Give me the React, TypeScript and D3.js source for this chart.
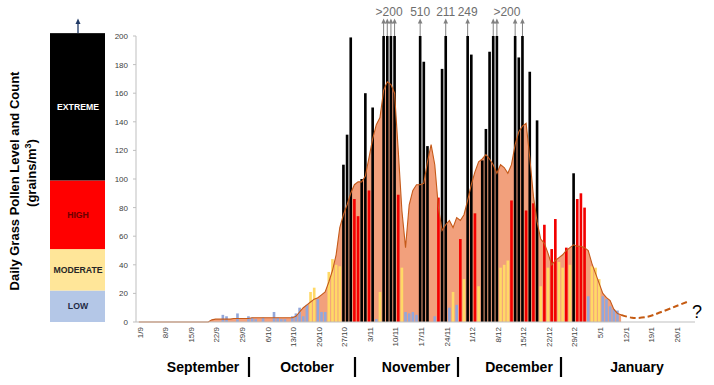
import React from 'react';
import * as d3 from 'd3';

// Daily grass pollen counts (grains/m3), day 0 = 1 September; null = no reading
const dailyCounts: (number | null)[] = [
  null, null, null, null, null, null, null, null, null, null,
  null, null, null, null, null, null, null, null, null, null,
  null, null, null, 5, 4, null, null, 6, null, null,
  4, 3, 2, null, 3, null, null, 7, 3, 2,
  2, null, 4, 6, 10, 4, 12, 21, 24, 16,
  7, 7, 35, 44, 40, 39, 110, 131, 199, 86,
  74, 100, 160, 92, 150, 2, 21, 201, 201, 201,
  201, 89, 38, 7, 6, 7, 5, 510, 182, 123,
  null, 4, 87, 177, 211, 10, 21, 12, 58, 30,
  249, 187, 76, 25, 113, 135, 189, 201, 201, 38,
  40, 43, 85, 201, 185, 201, 78, 175, 83, 141,
  25, 68, 38, 51, 72, 42, 38, 52, 40, 104,
  86, 90, 80, 18, 39, 38, 30, 18, 16, 11,
  9, 8,
];

// Smoothed (running) level shown as the orange area
const smoothedLevel: number[] = [
  0, 0, 0, 0, 0, 0, 0, 0, 0, 0,
  0, 0, 0, 0, 0, 0, 0, 0, 0, 0,
  1.5, 2, 2, 2, 2, 2, 2.5, 2.5, 2.5, 2.5,
  2.5, 3, 3, 3, 3, 3, 3, 3, 3, 3,
  3, 3, 3, 4, 7, 10, 12, 14, 16, 17,
  19, 21, 28, 36, 47, 66, 75, 82, 90, 96,
  98, 98, 102, 115, 128, 138, 143, 162, 168, 166,
  160, 120, 78, 52, 82, 92, 96, 96, 97, 112,
  124, 110, 80, 64, 68, 71, 66, 73, 71, 75,
  85, 96, 105, 112, 114, 117, 114, 110, 104, 110,
  108, 104, 110, 124, 133, 137, 139, 115, 88, 70,
  58, 55, 48, 40, 43, 45, 47, 50, 52, 54,
  53, 53, 52, 50, 41, 34, 27, 20, 17, 15,
  9, 6, 5,
];

// Forecast (dashed) points: [day, level]
const forecastDays: number[] = [132, 135, 139, 143, 147, 150];
const forecastLevels: number[] = [5, 3, 3.5, 7, 11, 14];

const tickLabels: string[] = [
  '1/9', '8/9', '15/9', '22/9', '29/9', '6/10', '13/10', '20/10', '27/10',
  '3/11', '10/11', '17/11', '24/11', '1/12', '8/12', '15/12', '22/12', '29/12',
  '5/1', '12/1', '19/1', '26/1',
];
const yTickValues: number[] = [0, 20, 40, 60, 80, 100, 120, 140, 160, 180, 200];

const monthNames: string[] = ['September', 'October', 'November', 'December', 'January'];

const levelNames: string[] = ['LOW', 'MODERATE', 'HIGH', 'EXTREME'];
const levelBounds: number[] = [0, 22, 51, 99, 202];

const annotationLabels: string[] = ['>200', '510', '211', '249', '>200'];
const annotationDays: number[][] = [[67, 68, 69, 70], [77], [84], [90], [97, 98, 103, 105]];

const TOTAL_DAYS = 153;

export default function App() {
  const W = 714;
  const H = 385;
  const x = d3.scaleBand<number>().domain(d3.range(TOTAL_DAYS)).range([137, 696]).padding(0);
  const bw = x.bandwidth();
  const cx = (d: number) => (x(d) as number) + bw / 2;
  const y = d3.scaleLinear().domain([0, 200]).range([322, 36]);
  const barW = bw * 0.72;

  const colorFor = (v: number) =>
    v >= 100 ? '#000000' : v >= 50 ? '#F20000' : v >= 20 ? '#FFD966' : '#93A7DA';

  const areaGen = d3
    .area<number>()
    .x((_, i) => cx(i))
    .y0(y(0))
    .y1((d) => y(d));
  const lineGen = d3
    .line<number>()
    .x((_, i) => cx(i))
    .y((d) => y(d));
  const fcGen = d3
    .line<number>()
    .x((_, i) => cx(forecastDays[i]))
    .y((d) => y(d))
    .curve(d3.curveCatmullRom);

  const levelFills = ['#B4C7E7', '#FFE699', '#FF0000', '#000000'];
  const levelText = ['#1F2A44', '#262626', '#6B0000', '#FFFFFF'];

  const monthX = [203, 307, 416, 519, 637];
  const sepX = [249, 355, 458, 561];

  const font = 'Arial, "Liberation Sans", Helvetica, sans-serif';

  return (
    <svg
      width={W}
      height={H}
      viewBox={`0 0 ${W} ${H}`}
      style={{ position: 'absolute', left: 0, top: 0, background: '#fff' }}
      fontFamily={font}
    >
      <rect x={0} y={0} width={W} height={H} fill="#fff" />

      {/* Y title */}
      <text
        transform={`translate(19,181) rotate(-90)`}
        textAnchor="middle"
        fontSize={13}
        fontWeight="bold"
        fill="#000"
      >
        Daily Grass Pollen Level and Count
      </text>
      <text
        transform={`translate(36,173) rotate(-90)`}
        textAnchor="middle"
        fontSize={13}
        fontWeight="bold"
        fill="#000"
      >
        (grains/m<tspan fontSize={9} dy={-5}>3</tspan>
        <tspan dy={5}>)</tspan>
      </text>

      {/* Level legend column */}
      {levelNames.map((name, i) => {
        const top = y(levelBounds[i + 1]);
        const bot = y(levelBounds[i]);
        return (
          <g key={name}>
            <rect x={50} y={top} width={55} height={bot - top} fill={levelFills[i]} />
            <text
              x={78}
              y={(top + bot) / 2 + 3}
              textAnchor="middle"
              fontSize={8.7}
              fontWeight="bold"
              fill={levelText[i]}
            >
              {name}
            </text>
          </g>
        );
      })}
      <line x1={78} x2={78} y1={y(levelBounds[4])} y2={24} stroke="#1F3864" strokeWidth={1.3} />
      <polygon points="75.5,24 80.5,24 78,18.5" fill="#1F3864" />

      {/* Y axis */}
      <line x1={136} x2={136} y1={y(200)} y2={y(0)} stroke="#BFBFBF" strokeWidth={1} />
      {yTickValues.map((t) => (
        <g key={t}>
          <line x1={133} x2={136} y1={y(t)} y2={y(t)} stroke="#BFBFBF" />
          <text x={128} y={y(t) + 3} textAnchor="end" fontSize={8} fill="#404040">
            {t}
          </text>
        </g>
      ))}

      {/* Smoothed area */}
      <path d={areaGen(smoothedLevel) || ''} fill="#F2A07C" />

      {/* Daily bars */}
      {dailyCounts.map((v, i) =>
        v == null ? null : (
          <rect
            key={i}
            x={cx(i) - barW / 2}
            y={y(Math.min(v, 200))}
            width={barW}
            height={y(0) - y(Math.min(v, 200))}
            fill={colorFor(v)}
          />
        )
      )}

      <path d={lineGen(smoothedLevel) || ''} fill="none" stroke="#C55A1A" strokeWidth={1.1} />

      {/* Forecast */}
      <path
        d={fcGen(forecastLevels) || ''}
        fill="none"
        stroke="#C55A11"
        strokeWidth={2}
        strokeDasharray="6,3"
      />
      <text x={697} y={318} textAnchor="middle" fontSize={18} fill="#000">
        ?
      </text>

      {/* X axis */}
      <line x1={136} x2={695} y1={y(0)} y2={y(0)} stroke="#BFBFBF" strokeWidth={1} />
      {tickLabels.map((lab, i) => (
        <text
          key={lab}
          transform={`translate(${cx(i * 7) + 1},327) rotate(-90)`}
          textAnchor="end"
          dy="0.35em"
          fontSize={8}
          fill="#404040"
        >
          {lab}
        </text>
      ))}

      {/* Month labels */}
      {monthNames.map((m, i) => (
        <text key={m} x={monthX[i]} y={372} textAnchor="middle" fontSize={14} fontWeight="bold" fill="#000">
          {m}
        </text>
      ))}
      {sepX.map((sx) => (
        <line key={sx} x1={sx} x2={sx} y1={357} y2={377} stroke="#000" strokeWidth={2.2} />
      ))}

      {/* Off-scale annotations */}
      {annotationLabels.map((lab, gi) => {
        const ds = annotationDays[gi];
        const mx = d3.mean(ds.map(cx)) as number;
        return (
          <g key={gi}>
            <text x={mx} y={16} textAnchor="middle" fontSize={12} fill="#6E6E6E">
              {lab}
            </text>
            {ds.map((d) => (
              <g key={d}>
                <line x1={cx(d)} x2={cx(d)} y1={y(200)} y2={23} stroke="#808080" strokeWidth={1} />
                <polygon
                  points={`${cx(d) - 2.3},23.5 ${cx(d) + 2.3},23.5 ${cx(d)},18.5`}
                  fill="#808080"
                />
              </g>
            ))}
          </g>
        );
      })}
    </svg>
  );
}
